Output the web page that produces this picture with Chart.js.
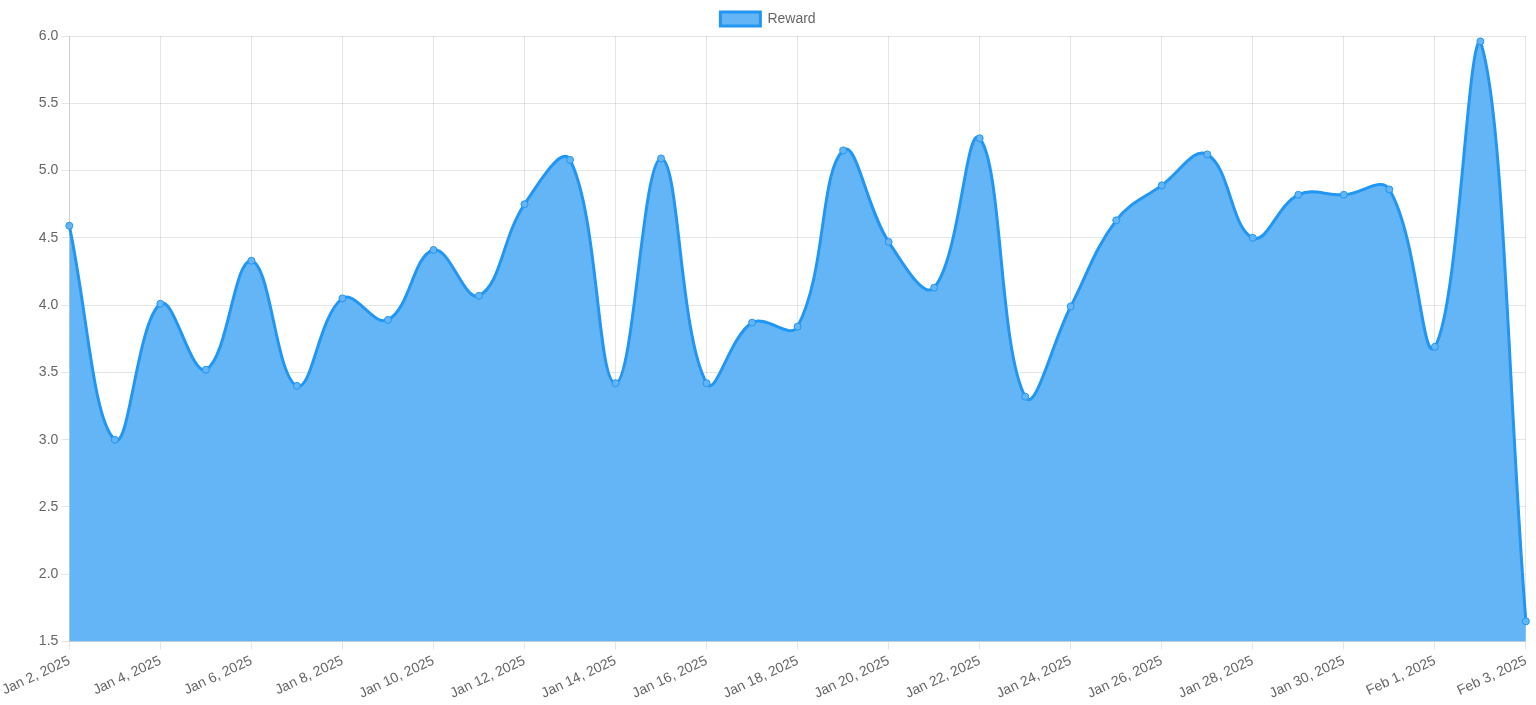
<!DOCTYPE html>
<html>
<head>
<meta charset="utf-8">
<script src="https://cdn.jsdelivr.net/npm/chart.js@4/dist/chart.umd.min.js"></script>
<style>
    html, body { margin: 0; padding: 0; background: #fff; }
    #wrap { width: 1536px; height: 705px; position: relative; }
</style>
</head>
<body>
<div id="wrap"><canvas id="line-chart"></canvas></div>
<script>
var dates = [
    'Jan 2, 2025', 'Jan 3, 2025', 'Jan 4, 2025', 'Jan 5, 2025', 'Jan 6, 2025', 'Jan 7, 2025',
    'Jan 8, 2025', 'Jan 9, 2025', 'Jan 10, 2025', 'Jan 11, 2025', 'Jan 12, 2025', 'Jan 13, 2025',
    'Jan 14, 2025', 'Jan 15, 2025', 'Jan 16, 2025', 'Jan 17, 2025', 'Jan 18, 2025', 'Jan 19, 2025',
    'Jan 20, 2025', 'Jan 21, 2025', 'Jan 22, 2025', 'Jan 23, 2025', 'Jan 24, 2025', 'Jan 25, 2025',
    'Jan 26, 2025', 'Jan 27, 2025', 'Jan 28, 2025', 'Jan 29, 2025', 'Jan 30, 2025', 'Jan 31, 2025',
    'Feb 1, 2025', 'Feb 2, 2025', 'Feb 3, 2025'
];

var reward = [
    4.59, 3.00, 4.01, 3.52, 4.33, 3.40,
    4.05, 3.89, 4.41, 4.07, 4.75, 5.08,
    3.42, 5.09, 3.42, 3.87, 3.84, 5.15,
    4.47, 4.13, 5.24, 3.32, 3.99, 4.63,
    4.89, 5.12, 4.50, 4.82, 4.82, 4.86,
    3.69, 5.96, 1.65
];

Chart.defaults.font.size = 14;
Chart.defaults.color = '#666';

var ctx = document.getElementById('line-chart');

var rewardSet = {
    label: 'Reward',
    data: reward,
    borderColor: '#2196F3',
    backgroundColor: '#64B5F6',
    borderWidth: 3,
    fill: true,
    tension: 0.4,
    pointRadius: 3.5,
    pointBorderWidth: 1,
    pointBackgroundColor: '#64B5F6',
    pointBorderColor: '#2196F3'
};//rewardSet

var lineChart = new Chart(ctx, {
    type: 'line',
    data: {
        labels: dates,
        datasets: [rewardSet]
    },//data
    options: {
        responsive: true,
        maintainAspectRatio: false,
        animation: false,
        plugins: {
            legend: { position: 'top', labels: { padding: 12 } }
        },
        scales: {
            x: {
                ticks: { color: '#666', maxTicksLimit: 17, minRotation: 25, maxRotation: 25 }
            },
            y: {
                ticks: { color: '#666' }
            }
        }
    }//options
});//new Chart
</script>
</body>
</html>
